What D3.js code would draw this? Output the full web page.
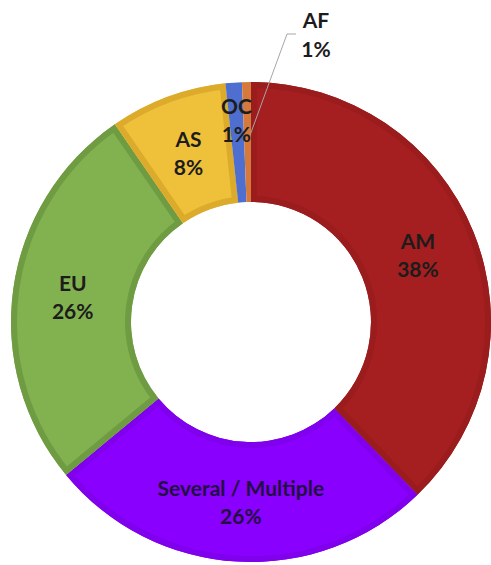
<!DOCTYPE html>
<html>
<head>
<meta charset="utf-8">
<script src="https://cdn.jsdelivr.net/npm/d3@7"></script>
<style>
  body { margin: 0; background: #fff; }
  svg { display: block; }
  .lbl { font-family: Lato, "Open Sans", sans-serif; font-weight: bold; font-size: 21px; }
</style>
</head>
<body>
<svg id="chart" width="491" height="565"></svg>
<script>
// regions, clockwise from 12 o'clock
const regions = ["AM", "Several / Multiple", "EU", "AS", "OC", "AF"];
const shares = [37.8, 26.2, 26.4, 7.9, 1.1, 0.6];
const pctLabels = ["38%", "26%", "26%", "8%", "1%", "1%"];

const fills = ["#a51e20", "#8a00fe", "#82b14f", "#efc13b", "#4e6fcf", "#d57a3a"];
const edges = ["#9a1c1d", "#8000ee", "#6f9c43", "#dcab2c", "#4462bd", "#c46c30"];

const width = 491, height = 565;
const cx = 251, cy = 322;
const outerR = 240, innerR = 120;

const svg = d3.select("#chart");
const g = svg.append("g").attr("transform", `translate(${cx},${cy})`);

const data = regions.map((r, i) => ({ region: r, value: shares[i], pct: pctLabels[i], i: i }));

const pie = d3.pie().value(d => d.value).sort(null);
const arc = d3.arc().innerRadius(innerR).outerRadius(outerR);
const arcs = pie(data);

const defs = svg.append("defs");
arcs.forEach((a, i) => {
    defs.append("clipPath").attr("id", "clip" + i)
        .append("path").attr("d", arc(a));
});

const slices = g.selectAll(".slice")
    .data(arcs)
    .enter().append("g")
    .attr("class", "slice");

slices.append("path")
    .attr("d", arc)
    .attr("fill", d => fills[d.data.i]);

// darker inner border band like the bevelled office style
slices.append("path")
    .attr("d", arc)
    .attr("fill", "none")
    .attr("stroke", d => edges[d.data.i])
    .attr("stroke-width", d => d.data.i >= 4 ? 0 : 12)
    .attr("clip-path", d => `url(#clip${d.data.i})`);

// labels
const labelArc = d3.arc().innerRadius(180).outerRadius(180);
const ocArc = d3.arc().innerRadius(203).outerRadius(203);

arcs.forEach(a => {
    const d = a.data;
    if (d.region === "AF") return;
    const [x, y] = (d.region === "OC" ? ocArc : labelArc).centroid(a);
    const t = g.append("text")
        .attr("class", "lbl")
        .attr("text-anchor", "middle")
        .attr("fill", d.region === "Several / Multiple" ? "#231042" : "#1c1c1c")
        .attr("transform", `translate(${x},${y})`);
    t.append("tspan").attr("x", 0).attr("y", -6).text(d.region);
    t.append("tspan").attr("x", 0).attr("y", 22).text(d.pct);
});

// AF sits outside with a leader line
const af = arcs.find(a => a.data.region === "AF");
const [sx, sy] = d3.arc().innerRadius(188).outerRadius(188).centroid(af);
const elbow = [287 - cx, 34 - cy];
const endPt = [296 - cx, 34 - cy];
g.append("polyline")
    .attr("points", [[sx + 3, sy], elbow, endPt].map(p => p.join(",")).join(" "))
    .attr("fill", "none")
    .attr("stroke", "#a6a6a6")
    .attr("stroke-width", 1);

const afText = g.append("text")
    .attr("class", "lbl")
    .attr("text-anchor", "middle")
    .attr("fill", "#1c1c1c")
    .attr("transform", `translate(${316 - cx},${28 - cy})`);
afText.append("tspan").attr("x", 0).attr("y", 0).text(af.data.region);
afText.append("tspan").attr("x", 0).attr("y", 29).text(af.data.pct);
</script>
</body>
</html>
